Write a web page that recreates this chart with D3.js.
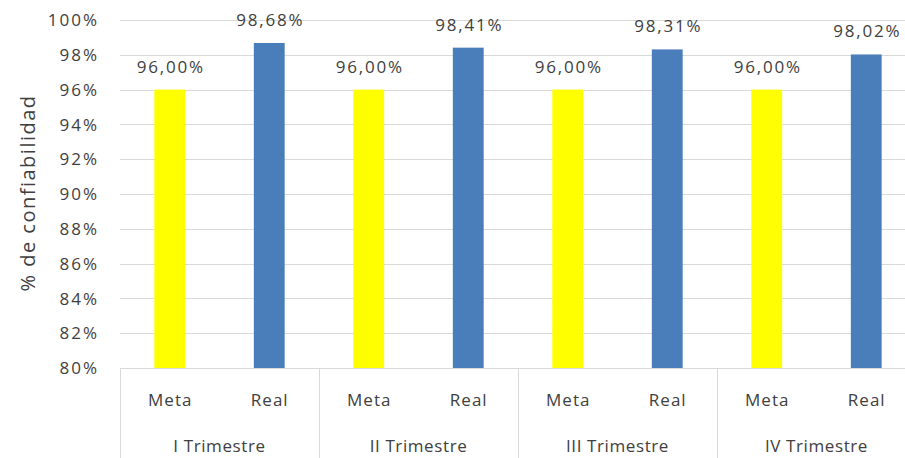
<!DOCTYPE html>
<html><head><meta charset="utf-8">
<script src="https://cdn.jsdelivr.net/npm/d3@7"></script>
<style>
body{margin:0;background:#fff;}
svg text{font-family:"Open Sans",sans-serif;fill:#404040;}
</style></head>
<body><svg id="c" width="905" height="458"></svg>
<script>
const groups = ["I Trimestre","II Trimestre","III Trimestre","IV Trimestre"];
const series = ["Meta","Real"];
const meta = [96.00, 96.00, 96.00, 96.00];
const real = [98.68, 98.41, 98.31, 98.02];
const yTicks = [80,82,84,86,88,90,92,94,96,98,100];
const colors = {Meta:"#FFFF00", Real:"#4A7EBB"};

(function(){
const svg = d3.select("#c");
const mLeft = 120, mRight = 916, mTop = 20, mBottom = 368;
const y = d3.scaleLinear().domain([80,100]).range([mBottom, mTop]);
const x0 = d3.scaleBand().domain(groups).range([mLeft, mRight]).paddingInner(0).paddingOuter(0);
const x1 = d3.scaleBand().domain(series).range([0, x0.bandwidth()]).paddingInner(0.69).paddingOuter(0.345);

const fmt = v => v.toFixed(2).replace(".", ",") + "%";

svg.append("g").selectAll("line").data(yTicks.filter(t=>t>80)).join("line")
  .attr("x1", mLeft).attr("x2", mRight)
  .attr("y1", d=>Math.round(y(d))+0.5).attr("y2", d=>Math.round(y(d))+0.5)
  .attr("stroke", "#D9D9D9").attr("stroke-width", 1);

svg.append("g").selectAll("text").data(yTicks).join("text")
  .attr("x", 99).attr("y", d=>y(d)).attr("dy", "0.36em")
  .attr("text-anchor", "end").style("font-size", "17px").style("letter-spacing","2px")
  .text(d=>d+"%");

svg.append("text").attr("transform", "translate(35,193) rotate(-90)")
  .attr("text-anchor", "middle").style("font-size", "20px").style("letter-spacing","1.5px")
  .text("% de confiabilidad");

const rows = groups.map((g,i)=>({g, vals:[{s:"Meta", v:meta[i]},{s:"Real", v:real[i]}]}));

const gg = svg.append("g").selectAll("g").data(rows).join("g")
  .attr("transform", d=>`translate(${x0(d.g)},0)`);

gg.selectAll("rect").data(d=>d.vals).join("rect")
  .attr("x", d=>x1(d.s)).attr("width", x1.bandwidth())
  .attr("y", d=>y(d.v)).attr("height", d=>y(80)-y(d.v))
  .attr("fill", d=>colors[d.s]);

gg.selectAll("text.val").data(d=>d.vals).join("text").attr("class","val")
  .attr("x", d=>x1(d.s)+x1.bandwidth()/2+1).attr("y", d=>y(d.v)-17)
  .attr("text-anchor","middle").style("font-size","17px").style("letter-spacing","1.8px")
  .text(d=>fmt(d.v));

gg.selectAll("text.cat").data(d=>d.vals).join("text").attr("class","cat")
  .attr("x", d=>x1(d.s)+x1.bandwidth()/2+0.5).attr("y", 406)
  .attr("text-anchor","middle").style("font-size","17px").style("letter-spacing","1px")
  .text(d=>d.s);

gg.append("text")
  .attr("x", x0.bandwidth()/2).attr("y", 452)
  .attr("text-anchor","middle").style("font-size","17px").style("letter-spacing","0.6px")
  .text(d=>d.g);

svg.append("line").attr("x1", mLeft).attr("x2", mRight)
  .attr("y1", mBottom+0.5).attr("y2", mBottom+0.5).attr("stroke", "#D9D9D9");
svg.append("g").selectAll("line").data(groups.concat(["end"])).join("line")
  .attr("x1", d=> d==="end" ? mRight : Math.round(x0(d))+0.5)
  .attr("x2", d=> d==="end" ? mRight : Math.round(x0(d))+0.5)
  .attr("y1", mBottom).attr("y2", 458).attr("stroke", "#D9D9D9");
})();
</script></body></html>
